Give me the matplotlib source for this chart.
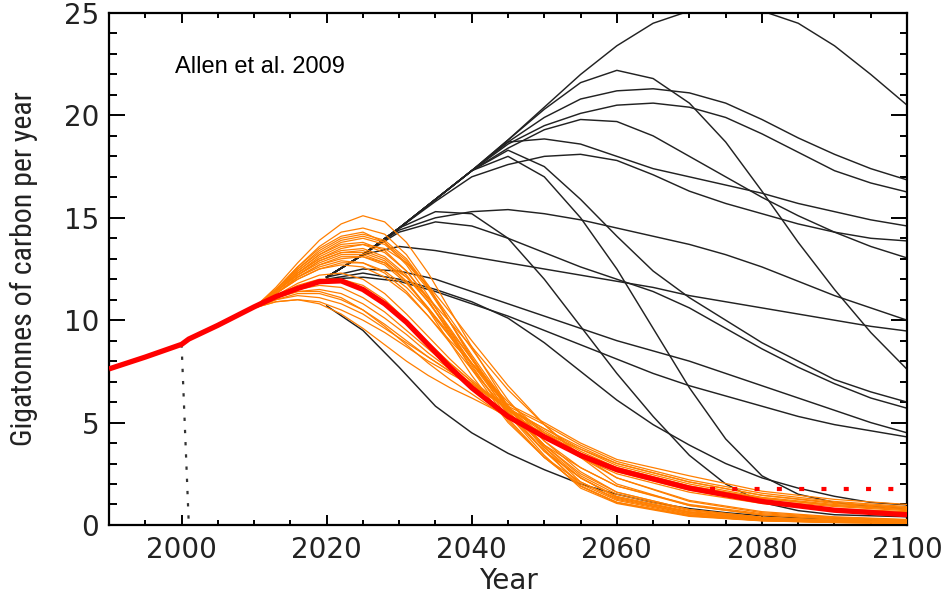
import matplotlib
matplotlib.use('Agg')
import matplotlib.pyplot as plt
from matplotlib import font_manager
from matplotlib.ticker import MultipleLocator

# ## central path (thick red), observed up to 2000 then projected
red_years = [1990, 1995, 2000, 2001, 2005, 2010, 2013, 2016, 2019, 2022, 2025, 2028, 2031,
             2034, 2037, 2040, 2045, 2050, 2055, 2060, 2070, 2080, 2090, 2100]
red_values = [7.62, 8.2, 8.82, 9.08, 9.75, 10.65, 11.15, 11.55, 11.88, 11.92, 11.5, 10.8, 9.9,
              8.8, 7.7, 6.7, 5.3, 4.3, 3.4, 2.7, 1.8, 1.15, 0.72, 0.5]

# red dotted level and the black dotted marker at 2000
dot_years = [2072.8, 2098.4]
dot_level = 1.76
marker_years = [2000.0, 2001.0]
marker_values = [8.82, 0.0]

# ## orange scenarios (sampled on orange_years)
orange_years = [2010, 2013, 2016, 2019, 2022, 2025, 2028, 2031, 2034, 2037, 2040,
                2045, 2050, 2055, 2060, 2070, 2080, 2090, 2100]
o01 = [10.6, 10.9, 11.0, 10.9, 10.5, 10.0, 9.4, 8.7, 8.0, 7.4, 6.8, 5.9, 5.0, 4.0, 3.2, 2.4, 1.65, 1.25, 1.0]
o02 = [10.6, 11.0, 11.2, 11.1, 10.8, 10.3, 9.6, 8.9, 8.2, 7.5, 6.9, 5.8, 4.9, 3.9, 3.1, 2.2, 1.55, 1.15, 0.9]
o03 = [10.6, 11.0, 11.3, 11.3, 11.0, 10.5, 9.8, 9.0, 8.2, 7.5, 6.8, 5.7, 4.7, 3.8, 3.0, 2.1, 1.45, 1.05, 0.85]
o04 = [10.6, 11.1, 11.4, 11.5, 11.3, 10.8, 10.1, 9.3, 8.4, 7.6, 6.9, 5.7, 4.7, 3.7, 2.9, 2.0, 1.35, 1.0, 0.8]
o05 = [10.6, 11.1, 11.5, 11.7, 11.6, 11.1, 10.4, 9.5, 8.6, 7.7, 6.9, 5.7, 4.6, 3.6, 2.8, 1.9, 1.3, 0.95, 0.75]
o06 = [10.6, 11.2, 11.6, 11.9, 11.9, 11.5, 10.8, 9.9, 8.9, 7.9, 7.0, 5.7, 4.5, 3.5, 2.7, 1.8, 1.2, 0.9, 0.7]
o07 = [10.6, 10.9, 11.0, 10.8, 10.3, 9.6, 8.8, 8.0, 7.3, 6.7, 6.2, 5.3, 4.5, 3.7, 3.0, 2.1, 1.45, 1.1, 0.85]
o08 = [10.6, 11.1, 11.4, 11.4, 11.1, 10.5, 9.7, 8.8, 7.9, 7.1, 6.4, 5.2, 4.3, 3.5, 2.8, 1.9, 1.3, 0.95, 0.75]
o09 = [10.6, 11.2, 11.7, 12.0, 12.0, 11.7, 11.0, 10.0, 8.9, 7.9, 7.0, 5.6, 4.4, 3.4, 2.6, 1.7, 1.1, 0.8, 0.65]
o10 = [10.6, 11.2, 11.8, 12.2, 12.3, 12.0, 11.3, 10.3, 9.2, 8.1, 7.1, 5.6, 4.3, 3.3, 2.5, 1.6, 1.05, 0.75, 0.6]
o11 = [10.6, 11.3, 12.0, 12.5, 12.8, 12.8, 12.4, 11.6, 10.5, 9.2, 7.9, 5.8, 4.1, 2.8, 1.9, 0.95, 0.5, 0.3, 0.2]
o12 = [10.6, 11.3, 12.1, 12.7, 13.1, 13.1, 12.7, 11.8, 10.6, 9.3, 7.9, 5.7, 3.9, 2.5, 1.6, 0.75, 0.38, 0.22, 0.15]
o13 = [10.6, 11.4, 12.2, 12.9, 13.3, 13.4, 13.0, 12.1, 10.9, 9.5, 8.1, 5.8, 3.9, 2.4, 1.5, 0.7, 0.35, 0.2, 0.13]
o14 = [10.6, 11.4, 12.3, 13.1, 13.6, 13.7, 13.3, 12.4, 11.1, 9.6, 8.1, 5.7, 3.8, 2.3, 1.35, 0.6, 0.3, 0.17, 0.11]
o15 = [10.6, 11.4, 12.4, 13.2, 13.8, 14.0, 13.7, 12.8, 11.5, 9.9, 8.3, 5.8, 3.8, 2.1, 1.3, 0.55, 0.27, 0.15, 0.1]
o16 = [10.6, 11.5, 12.5, 13.4, 14.0, 14.2, 13.9, 13.0, 11.6, 9.9, 8.2, 5.6, 3.6, 2.0, 1.2, 0.5, 0.24, 0.14, 0.1]
o17 = [10.6, 11.5, 12.6, 13.6, 14.3, 14.5, 14.2, 13.2, 11.7, 9.9, 8.1, 5.4, 3.4, 1.8, 1.05, 0.42, 0.2, 0.12, 0.08]
o18 = [10.6, 11.6, 12.8, 13.9, 14.7, 15.1, 14.8, 13.8, 12.3, 10.5, 8.7, 5.8, 3.7, 1.9, 1.1, 0.45, 0.21, 0.12, 0.08]
o19 = [10.6, 11.3, 12.1, 12.6, 12.9, 12.8, 12.3, 11.4, 10.2, 8.9, 7.6, 5.5, 3.9, 2.8, 1.9, 1.0, 0.55, 0.34, 0.23]
o20 = [10.6, 11.4, 12.2, 12.8, 13.2, 13.2, 12.8, 11.9, 10.6, 9.2, 7.7, 5.4, 3.6, 2.3, 1.4, 0.65, 0.33, 0.2, 0.13]
o21 = [10.6, 11.4, 12.3, 13.0, 13.4, 13.5, 13.1, 12.2, 10.9, 9.4, 7.9, 5.5, 3.6, 2.3, 1.35, 0.62, 0.3, 0.18, 0.12]
o22 = [10.6, 11.5, 12.4, 13.2, 13.7, 13.8, 13.4, 12.4, 11.0, 9.3, 7.6, 5.1, 3.3, 1.9, 1.1, 0.46, 0.22, 0.13, 0.09]
o23 = [10.6, 11.5, 12.5, 13.3, 13.9, 14.1, 13.8, 12.9, 11.6, 10.1, 8.6, 6.1, 4.1, 2.6, 1.6, 0.75, 0.37, 0.22, 0.15]
o24 = [10.6, 11.5, 12.6, 13.5, 14.1, 14.3, 13.8, 12.7, 11.2, 9.5, 7.8, 5.2, 3.3, 1.9, 1.1, 0.46, 0.22, 0.13, 0.09]
o25 = [10.6, 11.3, 12.1, 12.7, 13.0, 13.1, 12.8, 12.1, 11.1, 9.9, 8.7, 6.6, 4.9, 3.4, 2.3, 1.15, 0.6, 0.37, 0.25]
o26 = [10.6, 11.3, 12.0, 12.5, 12.7, 12.6, 12.1, 11.3, 10.2, 9.0, 7.9, 6.0, 4.5, 3.3, 2.3, 1.2, 0.65, 0.4, 0.27]
o27 = [10.6, 11.4, 12.3, 13.0, 13.5, 13.7, 13.5, 12.8, 11.7, 10.4, 9.0, 6.8, 4.9, 3.3, 2.0, 0.95, 0.48, 0.28, 0.19]
o28 = [10.6, 11.4, 12.2, 12.9, 13.3, 13.3, 12.9, 11.9, 10.5, 8.9, 7.3, 5.0, 3.3, 2.1, 1.25, 0.55, 0.27, 0.16, 0.1]

# ## black scenarios (sampled on black_years)
black_years = [2020, 2025, 2030, 2035, 2040, 2045, 2050, 2055, 2060,
               2065, 2070, 2075, 2080, 2085, 2090, 2095, 2100]
k01 = [12.1, 13.2, 14.5, 15.9, 17.3, 18.8, 20.4, 22.0, 23.4, 24.5, 25.1, 25.3, 25.1, 24.5, 23.4, 22.0, 20.5]
k02 = [12.1, 13.2, 14.5, 15.9, 17.3, 18.8, 20.3, 21.6, 22.2, 21.8, 20.6, 18.7, 16.3, 13.8, 11.5, 9.4, 7.6]
k03 = [12.1, 13.2, 14.5, 15.9, 17.3, 18.7, 19.9, 20.8, 21.2, 21.3, 21.1, 20.6, 19.8, 18.9, 18.1, 17.4, 16.85]
k04 = [12.1, 13.2, 14.5, 15.9, 17.3, 18.6, 19.5, 20.1, 20.5, 20.6, 20.4, 19.9, 19.1, 18.2, 17.3, 16.7, 16.26]
k05 = [12.1, 13.2, 14.5, 15.9, 17.3, 18.4, 19.3, 19.8, 19.7, 19.0, 18.0, 17.0, 16.0, 15.1, 14.3, 13.6, 13.04]
k06 = [12.1, 13.2, 14.5, 15.9, 17.3, 18.7, 18.85, 18.6, 18.0, 17.4, 17.0, 16.6, 16.2, 15.7, 15.3, 14.9, 14.6]
k07 = [12.1, 13.2, 14.5, 15.8, 17.0, 17.6, 18.0, 18.1, 17.8, 17.1, 16.3, 15.7, 15.2, 14.7, 14.3, 14.0, 13.87]
k08 = [12.1, 13.2, 14.5, 15.9, 17.3, 18.3, 17.5, 15.9, 14.1, 12.4, 11.1, 10.0, 8.9, 8.0, 7.1, 6.5, 6.0]
k09 = [12.1, 13.2, 14.4, 15.0, 15.3, 15.4, 15.2, 14.9, 14.5, 14.1, 13.7, 13.2, 12.6, 11.9, 11.2, 10.6, 10.0]
k10 = [12.1, 13.2, 14.5, 15.3, 15.2, 14.0, 12.0, 9.7, 7.4, 5.3, 3.4, 2.0, 1.1, 0.7, 0.5, 0.45, 0.4]
k11 = [12.1, 13.2, 14.5, 15.9, 17.3, 18.0, 17.0, 15.0, 12.5, 9.6, 6.7, 4.2, 2.4, 1.5, 1.1, 0.9, 0.8]
k12 = [12.1, 13.2, 14.3, 14.8, 14.6, 14.0, 13.3, 12.6, 12.0, 11.4, 10.6, 9.6, 8.6, 7.7, 6.9, 6.2, 5.7]
k13 = [12.1, 13.2, 13.6, 13.4, 13.1, 12.8, 12.5, 12.2, 11.9, 11.6, 11.2, 10.9, 10.6, 10.3, 10.0, 9.7, 9.47]
k14 = [12.1, 12.5, 12.4, 12.0, 11.4, 10.8, 10.2, 9.6, 9.0, 8.5, 8.0, 7.4, 6.8, 6.2, 5.6, 5.0, 4.5]
k15 = [12.0, 12.1, 11.9, 11.4, 10.8, 10.2, 9.5, 8.8, 8.1, 7.4, 6.8, 6.3, 5.8, 5.3, 4.9, 4.6, 4.3]
k16 = [12.0, 12.3, 12.0, 11.5, 10.9, 10.1, 8.9, 7.5, 6.1, 4.9, 3.9, 3.0, 2.3, 1.8, 1.4, 1.1, 0.98]
k17 = [10.7, 9.5, 7.7, 5.8, 4.5, 3.5, 2.7, 2.0, 1.5, 1.1, 0.8, 0.6, 0.45, 0.35, 0.3, 0.25, 0.2]

x_ticks = [2000, 2020, 2040, 2060, 2080, 2100]
y_ticks = [0, 5, 10, 15, 20, 25]

orange_runs = [o01, o02, o03, o04, o05, o06, o07, o08, o09, o10, o11, o12, o13, o14,
               o15, o16, o17, o18, o19, o20, o21, o22, o23, o24, o25, o26, o27, o28]
black_runs = [k01, k02, k03, k04, k05, k06, k07, k08, k09, k10, k11, k12, k13, k14, k15, k16, k17]

plt.rcParams['font.family'] = ['Liberation Sans', 'DejaVu Sans']
tick_font = 'DejaVu Sans'

# look for a narrow sans for the y label (the original uses a condensed face)
narrow_file = None
for fe in font_manager.fontManager.ttflist:
    nm = (fe.name + ' ' + fe.fname).lower()
    if ('narrow' in nm or 'condensed' in nm) and fe.style == 'normal' and fe.weight in (400, 'normal', 'regular', 'book'):
        if 'bold' in nm or 'light' in nm or 'semi' in nm or 'extra' in nm:
            continue
        narrow_file = fe.fname
        if 'liberation' in nm or 'arial' in nm:
            break

fig = plt.figure(figsize=(9.48, 5.94), dpi=100)
ax = fig.add_axes([0.115, 0.1162, 0.8418, 0.8619])

for run in black_runs:
    ax.plot(black_years, run, color='#222222', lw=1.05, zorder=2)
for run in orange_runs:
    ax.plot(orange_years, run, color='#ff7f00', lw=0.9, zorder=3)

ax.plot(marker_years, marker_values, color='#333333', lw=1.6, linestyle=(0, (1.5, 4)), zorder=4)
ax.plot(red_years, red_values, color='#ff0000', lw=3.8, solid_capstyle='butt', zorder=5)
ax.plot(dot_years, [dot_level, dot_level], color='#ff0000', lw=3.0,
        linestyle=(0, (1.2, 4.15)), dash_capstyle='butt', zorder=5)

ax.set_xlim(1990, 2100)
ax.set_ylim(0, 25)
ax.set_xticks(x_ticks)
ax.set_yticks(y_ticks)
ax.xaxis.set_minor_locator(MultipleLocator(5))
ax.yaxis.set_minor_locator(MultipleLocator(1))
ax.tick_params(axis='both', which='both', direction='in', top=True, right=True, width=1.4)
ax.tick_params(axis='x', which='major', length=7, pad=8)
ax.tick_params(axis='x', which='minor', length=3.6)
ax.tick_params(axis='y', which='major', length=11.5, pad=7)
ax.tick_params(axis='y', which='minor', length=5.4)
for lab in ax.get_xticklabels() + ax.get_yticklabels():
    lab.set_fontfamily(tick_font)
    lab.set_fontsize(20)
    lab.set_color('#222222')
for sp in ax.spines.values():
    sp.set_linewidth(1.6)

ax.set_xlabel('Year', fontfamily=tick_font, fontsize=20, color='#222222', labelpad=2)
if narrow_file:
    ylab_font = font_manager.FontProperties(fname=narrow_file, size=21.5)
else:
    ylab_font = font_manager.FontProperties(family='Liberation Sans', size=17.5)
ax.set_ylabel('Gigatonnes of carbon per year', fontproperties=ylab_font, color='#222222')
ax.yaxis.set_label_coords(-0.089, 0.5)

ax.text(0.0825, 0.882, 'Allen et al. 2009', transform=ax.transAxes, fontsize=17,
        fontfamily=['Liberation Sans', 'DejaVu Sans'], color='black')

fig.savefig('out.png', dpi=100)
